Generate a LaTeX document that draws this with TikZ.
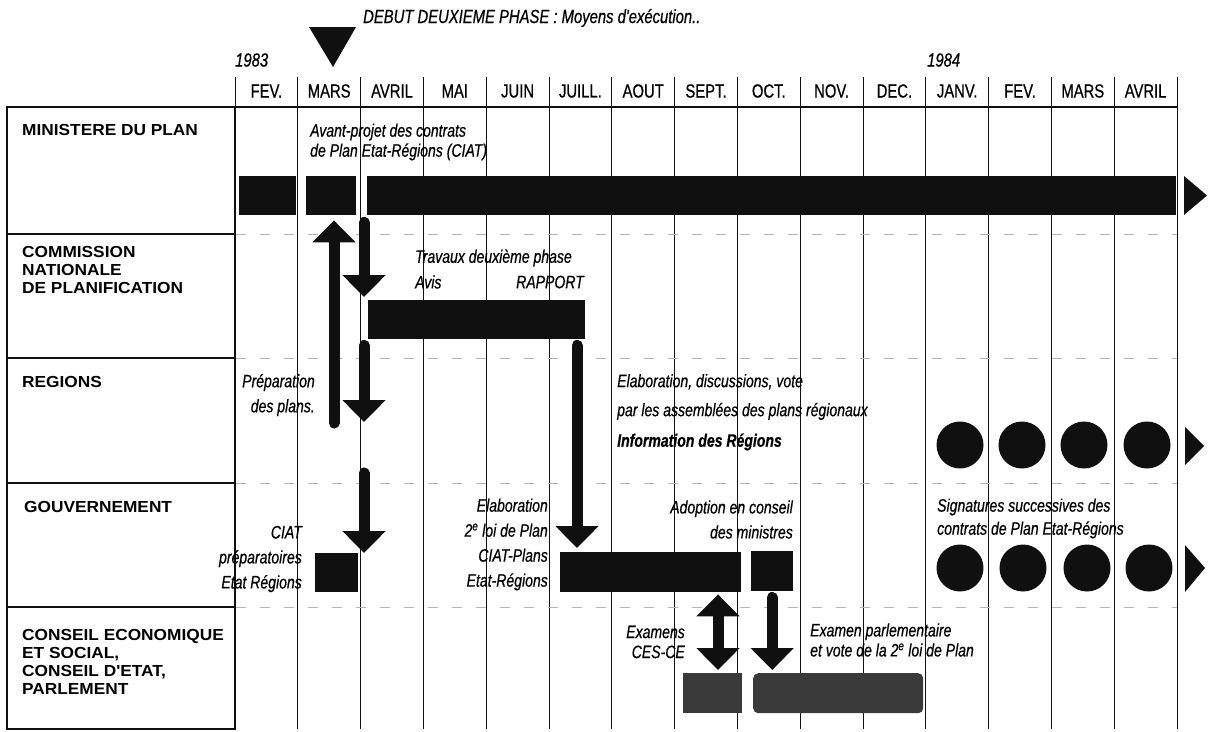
\documentclass[tikz,border=0pt]{standalone}
\usepackage{fontspec}
\setmainfont{Liberation Sans}
\newfontfamily\condfont[FakeStretch=0.78, FakeBold=0.6]{Liberation Sans}
\newfontfamily\widefont[FakeStretch=1.08]{Liberation Sans}
\usetikzlibrary{arrows.meta, positioning, calc}
\definecolor{planink}{HTML}{101010}
\definecolor{planmottle}{HTML}{3A3A3A}
\definecolor{planrule}{HTML}{B4B4B4}

\begin{document}
\begin{tikzpicture}[
  x=1pt, y=-1pt,
  bar/.style={rectangle, fill=planink, inner sep=0pt, anchor=north west},
  dot/.style={circle, fill=planink, inner sep=0pt, minimum size=47pt},
  note/.style={inner sep=0pt, align=left,
    font={\condfont\itshape\fontsize{18}{25}\selectfont}},
  rnote/.style={note, align=right},
  month/.style={inner sep=0pt, font={\condfont\fontsize{19}{22}\selectfont}},
  rowlabel/.style={inner sep=0pt, align=left, anchor=west,
    font={\widefont\bfseries\fontsize{16}{18}\selectfont}},
  bigarrow/.style={line width=11pt, line cap=round, draw=planink,
    -{Triangle[length=22pt, width=42pt]}},
  bigboth/.style={bigarrow, {Triangle[length=22pt, width=42pt]}-{Triangle[length=22pt, width=42pt]}},
  monthline/.style={line width=0.8pt, planink}
]
  \useasboundingbox (0,0) rectangle (1209,731);

  % title and years
  \fill[planink] (309,27) -- (356,27) -- (333,67) -- cycle;
  \node[note, anchor=west, font={\condfont\itshape\fontsize{19}{22}\selectfont}] (title) at (363,18)
    {DEBUT DEUXIEME PHASE : Moyens d'exécution..};
  \node[note, anchor=west, font={\condfont\itshape\fontsize{19}{22}\selectfont}] (y83) at (235,60) {1983};
  \node[note, anchor=west, font={\condfont\itshape\fontsize{19}{22}\selectfont}] (y84) at (927,60) {1984};

  % month grid
  \foreach \i in {0,...,15}
    \draw[monthline] ({235+62.8*\i},77) -- ({235+62.8*\i},729);
  \foreach \m [count=\i from 0] in {FEV.,MARS,AVRIL,MAI,JUIN,JUILL.,AOUT,SEPT.,OCT.,NOV.,DEC.,JANV.,FEV.,MARS,AVRIL}
    \node[month] (m\i) at ({266.4+62.8*\i},91) {\m};
  \draw[line width=2pt, planink] (7,107) -- (1177,107);
  \foreach \r in {234,358,483,607}
    \draw[planrule, line width=0.6pt, dash pattern=on 10pt off 14pt] (236,\r) -- (1177,\r);

  % row labels
  \draw[line width=1.6pt, planink] (7,107) rectangle (235,729);
  \foreach \r in {234,358,483,607}
    \draw[line width=1.6pt, planink] (7,\r) -- (235,\r);
  \node[rowlabel] (lplan) at (22,130) {MINISTERE DU PLAN};
  \node[rowlabel] (lcnp) at (22,270) {COMMISSION\\NATIONALE\\DE PLANIFICATION};
  \node[rowlabel] (lreg) at (22,382) {REGIONS};
  \node[rowlabel] (lgov) at (24,507) {GOUVERNEMENT};
  \node[rowlabel] (lces) at (22,662) {CONSEIL ECONOMIQUE\\ET SOCIAL,\\CONSEIL D'ETAT,\\PARLEMENT};

  % bars
  \node[bar, minimum width=57pt, minimum height=39pt] (mp1) at (239,176) {};
  \node[bar, minimum width=50pt, minimum height=39pt] (mp2) at (306,176) {};
  \node[bar, minimum width=809pt, minimum height=39pt] (mp3) at (367,176) {};
  \node[bar, minimum width=217pt, minimum height=39pt] (cnp) at (368,300) {};
  \node[bar, minimum width=43pt, minimum height=39pt] (ciat) at (315,553) {};
  \node[bar, minimum width=181pt, minimum height=40pt] (gvb) at (560,552) {};
  \node[bar, minimum width=42pt, minimum height=40pt] (gvs) at (751,551) {};
  \node[bar, fill=planmottle, minimum width=59pt, minimum height=40pt] (ces1) at (683,673) {};
  \node[bar, fill=planmottle, rounded corners=5pt, minimum width=170pt, minimum height=40pt] (ces2) at (753,673) {};

  \fill[planink] (1184,176) -- (1207,195.5) -- (1184,215) -- cycle;

  % signatures
  \foreach \x [count=\i] in {960,1022,1084,1147}
    \node[dot] (reg\i) at (\x,445) {};
  \foreach \x [count=\i] in {960,1023,1087,1149}
    \node[dot] (gov\i) at (\x,568) {};
  \fill[planink] (1185,427) -- (1204,446) -- (1185,465) -- cycle;
  \fill[planink] (1185,545) -- (1205,568) -- (1185,592) -- cycle;

  % notes
  \node[note, anchor=west, font={\condfont\itshape\fontsize{18}{20}\selectfont}] (avant) at (310,142)
    {Avant-projet des contrats\\de Plan Etat-Régions (CIAT)};
  \node[note, anchor=west] (travaux) at (415,258) {Travaux deuxième phase};
  \node[note, anchor=west] (avis) at (415,282) {Avis};
  \node[note, anchor=east] (rapport) at (584,282) {RAPPORT};
  \node[rnote, anchor=east] (prep) at (315,395) {Préparation\\des plans.};
  \node[note, anchor=west, font={\condfont\itshape\fontsize{18}{29}\selectfont}] (elab) at (617,397)
    {Elaboration, discussions, vote\\par les assemblées des plans régionaux};
  \node[note, anchor=west, font={\condfont\itshape\bfseries\fontsize{18}{25}\selectfont}] (info) at (617,442)
    {Information des Régions};
  \node[rnote, anchor=east] (ciatp) at (302,559) {CIAT\\préparatoires\\Etat Régions};
  \node[rnote, anchor=east] (elabg) at (548,544.5)
    {Elaboration\\2\textsuperscript{e} loi de Plan\\CIAT-Plans\\Etat-Régions};
  \node[rnote, anchor=east] (adopt) at (793,519.5) {Adoption en conseil\\des ministres};
  \node[note, anchor=west, font={\condfont\itshape\fontsize{18}{23}\selectfont}] (sign) at (937,518.5)
    {Signatures successives des\\contrats de Plan Etat-Régions};
  \node[rnote, anchor=east, font={\condfont\itshape\fontsize{18}{20}\selectfont}] (exam) at (685,642)
    {Examens\\CES-CE};
  \node[note, anchor=west, font={\condfont\itshape\fontsize{18}{20}\selectfont}] (parl) at (810,640)
    {Examen parlementaire\\et vote de la 2\textsuperscript{e} loi de Plan};

  % arrows
  \coordinate (prepfoot) at (334,423);
  \coordinate (drop) at (364,0);
  \coordinate (regfoot) at (364,422);
  \coordinate (govtop) at (364,473);
  \coordinate (rapx) at (577,0);
  \coordinate (dbl) at (718,0);
  \draw[bigarrow, shorten >=5pt] (prepfoot) -- (prepfoot |- mp2.south);
  \draw[bigarrow, shorten <=7pt, shorten >=3pt] (drop |- mp3.south) -- (drop |- cnp.north);
  \draw[bigarrow, shorten <=6pt] (drop |- cnp.south) -- (regfoot);
  \draw[bigarrow] (govtop) -- (drop |- ciat.north);
  \draw[bigarrow, shorten <=6pt, shorten >=4pt] (rapx |- cnp.south) -- (rapx |- gvb.north);
  \draw[bigboth, shorten <=2pt, shorten >=3pt] (dbl |- gvb.south) -- (dbl |- ces1.north);
  \draw[bigarrow, shorten <=6pt, shorten >=3pt] (gvs.south) -- (gvs.south |- ces2.north);
\end{tikzpicture}
\end{document}
